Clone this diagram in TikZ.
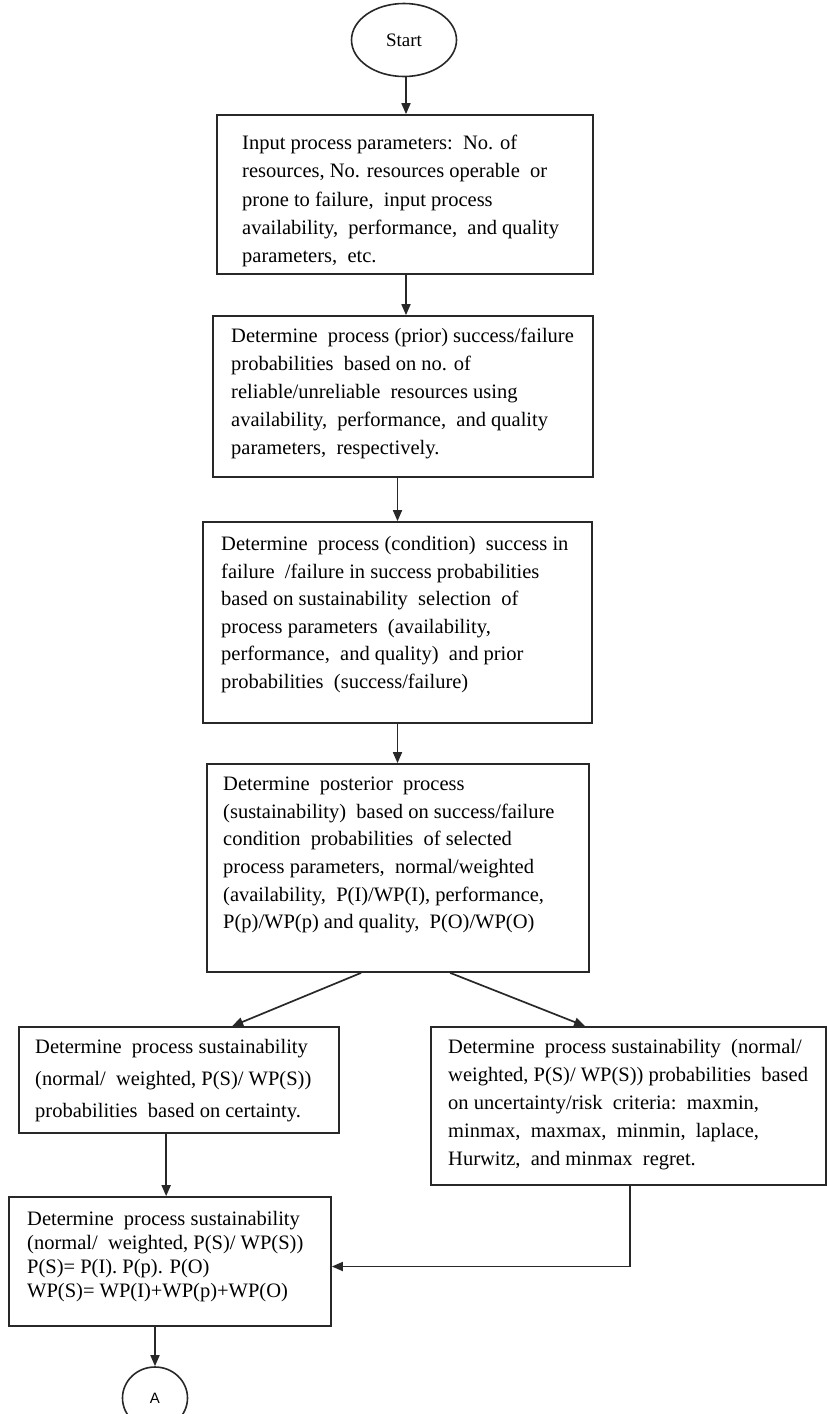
\documentclass[tikz,border=0pt]{standalone}
\usepackage{fontspec}
\setmainfont{Liberation Serif}
\newfontfamily\sansA{Liberation Sans}
\usetikzlibrary{arrows.meta,calc,shapes.geometric}
\definecolor{ln}{RGB}{40,40,40}
\tikzset{
  box/.style={draw=ln, line width=1.7pt, rectangle, inner sep=0pt},
  oval/.style={draw=ln, line width=1.6pt, ellipse, inner sep=0pt},
  txt/.style={anchor=north west, align=left, inner sep=0pt, text=black},
  arr/.style={draw=ln, line width=1.7pt, -{Triangle[length=11pt,width=9pt]}},
}
\newcommand{\fs}[1]{\fontsize{20.5}{#1}\selectfont}
\begin{document}
\begin{tikzpicture}[x=1pt,y=-1pt]
\useasboundingbox (0,0) rectangle (827,1414);
% shapes
\node[oval, minimum width=105pt, minimum height=73pt] (start) at (404,40) {\fontsize{19}{22}\selectfont Start};
\node[box, minimum width=376pt, minimum height=159pt] (b1) at (405,194.5) {};
\node[box, minimum width=380pt, minimum height=161pt] (b2) at (403,396.5) {};
\node[box, minimum width=389pt, minimum height=201pt] (b3) at (397.5,622.5) {};
\node[box, minimum width=382pt, minimum height=208pt] (b4) at (398,868) {};
\node[box, minimum width=320pt, minimum height=106pt] (bl) at (179,1080) {};
\node[box, minimum width=395pt, minimum height=158pt] (br) at (628.5,1106) {};
\node[box, minimum width=322pt, minimum height=129pt] (bb) at (170,1261.5) {};
\node[oval, minimum width=65pt, minimum height=62pt] (ca) at (155,1398) {\sansA\fontsize{15}{17}\selectfont A};
% texts
\node[txt, font=\fs{28.3}] (t1) at (242,135) {Input process parameters:\ \ No. of\\resources, No. resources operable\ \ or\\prone to failure,\ \ input process\\availability,\ \ performance,\ \ and quality\\parameters,\ \ etc.};
\node[txt, font=\fs{28}] (t2) at (231,328) {Determine\ \ process (prior) success/failure\\probabilities\ \ based on no. of\\reliable/unreliable\ \ resources using\\availability,\ \ performance,\ \ and quality\\parameters,\ \ respectively.};
\node[txt, font=\fs{27.6}] (t3) at (221,536) {Determine\ \ process (condition)\ \ success in\\failure\ \ /failure in success probabilities\\based on sustainability\ \ selection\ \ of\\process parameters\ \ (availability,\\performance,\ \ and quality)\ \ and prior\\probabilities\ \ (success/failure)};
\node[txt, font=\fs{27.6}] (t4) at (223,777) {Determine\ \ posterior\ \ process\\(sustainability)\ \ based on success/failure\\condition\ \ probabilities\ \ of selected\\process parameters,\ \ normal/weighted\\(availability,\ \ P(I)/WP(I), performance,\\P(p)/WP(p) and quality,\ \ P(O)/WP(O)};
\node[txt, font=\fs{32}] (tl) at (35,1039) {Determine\ \ process sustainability\\(normal/\ \ weighted, P(S)/ WP(S))\\probabilities\ \ based on certainty.};
\node[txt, font=\fs{28}] (tr) at (448,1039) {Determine\ \ process sustainability\ \ (normal/\\weighted, P(S)/ WP(S)) probabilities\ \ based\\on uncertainty/risk\ \ criteria:\ \ maxmin,\\minmax,\ \ maxmax,\ \ minmin,\ \ laplace,\\Hurwitz,\ \ and minmax\ \ regret.};
\node[txt, font=\fs{24}] (tb) at (27,1211) {Determine\ \ process sustainability\\(normal/\ \ weighted, P(S)/ WP(S))\\P(S)= P(I). P(p). P(O)\\WP(S)= WP(I)+WP(p)+WP(O)};
% connectors
\draw[arr] ($(start.south)+(2,0)$) -- ($(start.south |- b1.north)+(2,0)$);
\draw[arr] ($(b1.south)+(1,0)$) -- ($(b1.south |- b2.north)+(1,0)$);
\draw[arr] (b3.north |- b2.south) -- (b3.north);
\draw[arr] (b3.south) -- (b3.south |- b4.north);
\draw[arr] ($(b4.south west)+(155,0)$) -- ($(bl.north west)+(214,0)$);
\draw[arr] ($(b4.south west)+(244,0)$) -- ($(br.north west)+(155,0)$);
\draw[arr] ($(bl.south west)+(148,0)$) -- ($(bl.south west |- bb.north)+(148,0)$);
\draw[arr] ($(br.south west)+(200,0)$) |- ($(bb.east)+(0,5)$);
\draw[arr] (ca.north |- bb.south) -- (ca.north);
\end{tikzpicture}
\end{document}
